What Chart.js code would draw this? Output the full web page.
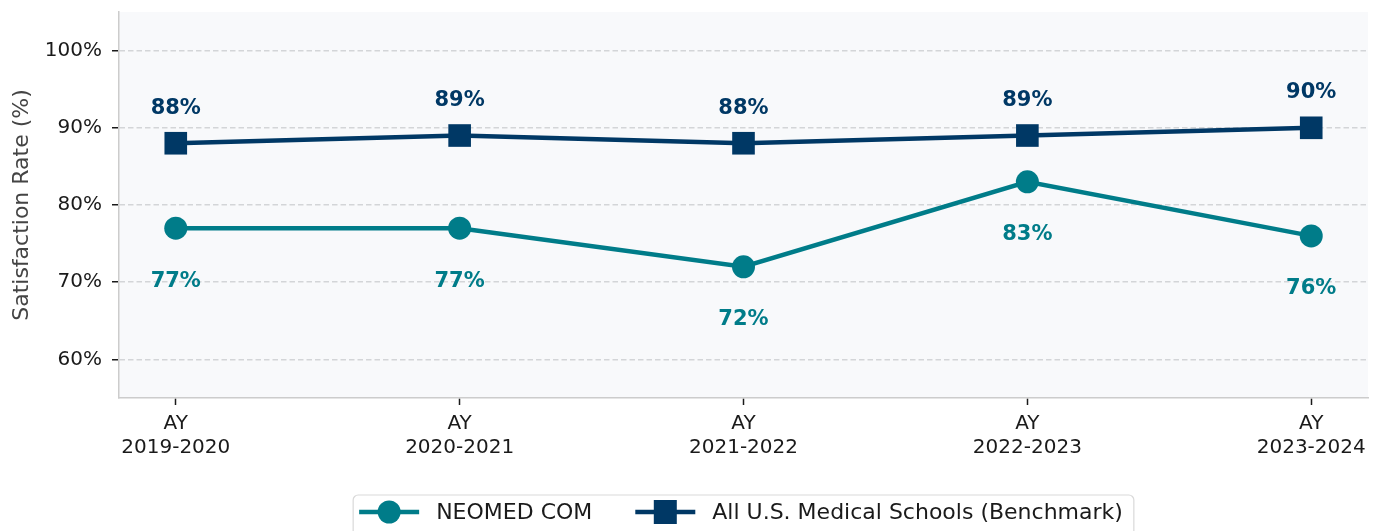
<!DOCTYPE html>
<html>
<head>
<meta charset="utf-8">
<script src="https://cdn.jsdelivr.net/npm/chart.js@4/dist/chart.umd.min.js"></script>
<style>
  html, body { margin: 0; padding: 0; background: #ffffff; }
  #wrap { width: 1383px; height: 531px; position: relative; }
</style>
</head>
<body>
<div id="wrap"><canvas id="c" width="1383" height="531"></canvas></div>
<script>
const categories = ["AY\n2019-2020", "AY\n2020-2021", "AY\n2021-2022", "AY\n2022-2023", "AY\n2023-2024"];
const neomedValues = [77, 77, 72, 83, 76];
const benchmarkValues = [88, 89, 88, 89, 90];
const yTickValues = [60, 70, 80, 90, 100];
const seriesNames = ["NEOMED COM", "All U.S. Medical Schools (Benchmark)"];

const TEAL = '#007C89';
const NAVY = '#003865';
const FONT = "'DejaVu Sans', sans-serif";

const bgPlugin = {
  id: 'bg',
  beforeDraw(chart) {
    const { ctx, chartArea: a } = chart;
    ctx.save();
    ctx.fillStyle = '#f8f9fb';
    ctx.fillRect(a.left, a.top, a.right - a.left, a.bottom - a.top);
    ctx.restore();
  }
};

const labelPlugin = {
  id: 'vlabels',
  afterDatasetsDraw(chart) {
    const { ctx } = chart;
    ctx.save();
    ctx.font = "bold 21px " + FONT;
    ctx.textAlign = 'center';
    ctx.textBaseline = 'middle';
    chart.data.datasets.forEach((ds, i) => {
      const meta = chart.getDatasetMeta(i);
      const off = ds.labelOffset;
      ctx.fillStyle = ds.borderColor;
      meta.data.forEach((pt, j) => {
        ctx.fillText(ds.data[j].y + '%', pt.x, pt.y + off);
      });
    });
    ctx.restore();
  }
};

const legendPlugin = {
  id: 'customLegend',
  afterDraw(chart) {
    const { ctx, chartArea: a } = chart;
    ctx.save();
    ctx.font = "22px " + FONT;
    const handle = 60, gapText = 17, gapItem = 43, padL = 6, padR = 11;
    const widths = chart.data.datasets.map(ds => ctx.measureText(ds.label).width);
    let total = padL + padR;
    widths.forEach((w, i) => { total += handle + gapText + w + (i > 0 ? gapItem : 0); });
    const cx = (a.left + a.right) / 2;
    const x0 = cx - total / 2;
    const top = 495, h = 50, cy = 512;
    ctx.fillStyle = 'rgba(255,255,255,0.9)';
    ctx.strokeStyle = '#d9d9d9';
    ctx.lineWidth = 1.2;
    ctx.beginPath();
    if (ctx.roundRect) ctx.roundRect(x0, top, total, h, 5); else ctx.rect(x0, top, total, h);
    ctx.fill();
    ctx.stroke();
    let x = x0 + padL;
    chart.data.datasets.forEach((ds, i) => {
      if (i > 0) x += gapItem;
      ctx.strokeStyle = ds.borderColor;
      ctx.lineWidth = 4.5;
      ctx.beginPath();
      ctx.moveTo(x, cy); ctx.lineTo(x + handle, cy);
      ctx.stroke();
      ctx.fillStyle = ds.borderColor;
      const mx = x + handle / 2;
      if (ds.pointStyle === 'circle') {
        ctx.beginPath(); ctx.arc(mx, cy, 11.5, 0, Math.PI * 2); ctx.fill();
      } else {
        ctx.fillRect(mx - 11.5, cy - 12, 23, 24);
      }
      x += handle + gapText;
      ctx.fillStyle = '#1a1a1a';
      ctx.textAlign = 'left';
      ctx.textBaseline = 'middle';
      ctx.fillText(ds.label, x, cy + 1);
      x += widths[i];
    });
    ctx.restore();
  }
};

const toPts = arr => arr.map((v, i) => ({ x: i, y: v }));

new Chart(document.getElementById('c'), {
  type: 'line',
  data: {
    datasets: [
      {
        label: seriesNames[0],
        data: toPts(neomedValues),
        borderColor: TEAL,
        backgroundColor: TEAL,
        borderWidth: 4.5,
        pointStyle: 'circle',
        pointRadius: 11.5,
        pointHoverRadius: 11.5,
        pointBorderWidth: 0,
        labelOffset: 53,
        tension: 0
      },
      {
        label: seriesNames[1],
        data: toPts(benchmarkValues),
        borderColor: NAVY,
        backgroundColor: NAVY,
        borderWidth: 4.5,
        pointStyle: 'rect',
        pointRadius: 16,
        pointHoverRadius: 16,
        pointBorderWidth: 0,
        labelOffset: -35,
        tension: 0
      }
    ]
  },
  options: {
    responsive: false,
    animation: false,
    events: [],
    layout: { autoPadding: false, padding: { top: 12, right: 15, left: 0, bottom: 0 } },
    plugins: {
      legend: { display: false },
      tooltip: { enabled: false }
    },
    scales: {
      x: {
        type: 'linear',
        min: -0.2,
        max: 4.2,
        afterFit(s) { s.height = 133; s.paddingLeft = 0; s.paddingRight = 0; },
        afterBuildTicks(s) { s.ticks = categories.map((c, i) => ({ value: i })); },
        ticks: {
          callback: (v) => categories[v] ? categories[v].split('\n') : '',
          font: { family: FONT, size: 20, lineHeight: 1.2 },
          color: '#1a1a1a',
          padding: 7,
          maxRotation: 0,
          autoSkip: false
        },
        grid: {
          drawOnChartArea: false,
          drawTicks: true,
          tickLength: 7,
          tickColor: '#1a1a1a',
          tickWidth: 1.5
        },
        border: { display: true, color: '#cccccc', width: 1.5 }
      },
      y: {
        min: 55,
        max: 105,
        afterFit(s) { s.width = 119; s.paddingTop = 0; s.paddingBottom = 0; },
        afterBuildTicks(s) { s.ticks = yTickValues.map(v => ({ value: v })); },
        ticks: {
          callback: (v) => v + '%',
          font: { family: FONT, size: 20 },
          color: '#1a1a1a',
          padding: 10
        },
        grid: {
          color: '#d3d5d8',
          lineWidth: 1.5,
          drawTicks: true,
          tickLength: 7,
          tickColor: '#1a1a1a',
          tickWidth: 1.5
        },
        border: { display: true, color: '#cccccc', width: 1.5, dash: [5.5, 3] },
        title: {
          display: true,
          text: 'Satisfaction Rate (%)',
          font: { family: FONT, size: 22 },
          color: '#444444',
          padding: { top: 9, bottom: 0 }
        }
      }
    }
  },
  plugins: [bgPlugin, labelPlugin, legendPlugin]
});
</script>
</body>
</html>
